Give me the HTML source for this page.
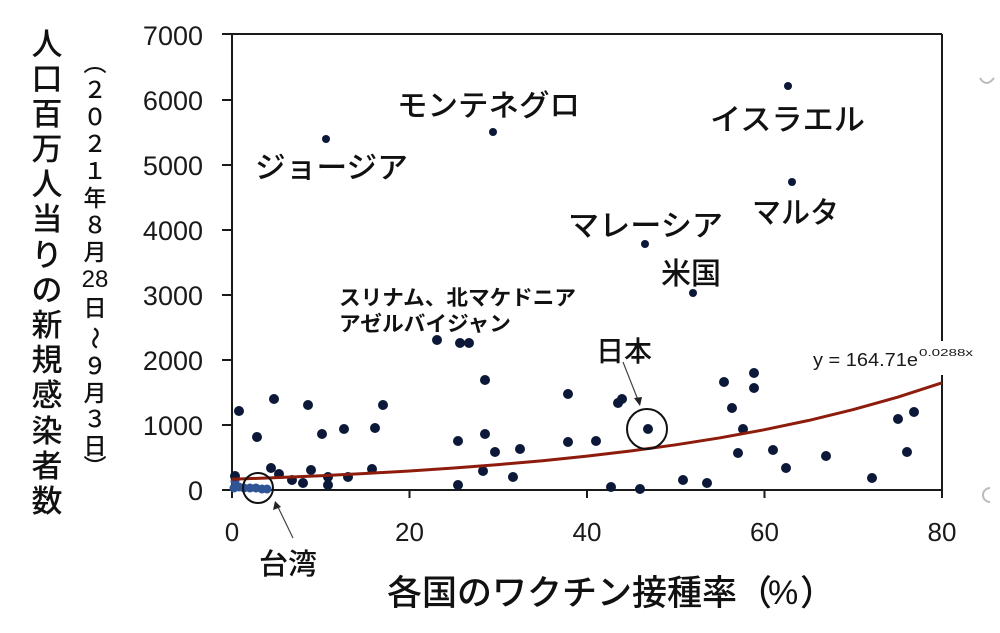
<!DOCTYPE html>
<html>
<head>
<meta charset="utf-8">
<style>
html,body{margin:0;padding:0;background:#fff;}
svg{display:block;}
.jp{font-family:"Liberation Sans","Noto Sans CJK JP",sans-serif;fill:#111;}
.num{font-family:"Liberation Sans",sans-serif;fill:#1a1a1a;}
</style>
</head>
<body>
<svg width="1000" height="633" viewBox="0 0 1000 633" xmlns="http://www.w3.org/2000/svg">
<rect width="1000" height="633" fill="#fff"/>

<g stroke="#1a1a1a" stroke-width="2" fill="none">
  <line x1="232" y1="34" x2="232" y2="491"/>
  <line x1="222" y1="34" x2="942" y2="34"/>
  <line x1="942" y1="34" x2="942" y2="341"/>
  <line x1="942" y1="375" x2="942" y2="498"/>
  <line x1="222" y1="490" x2="942" y2="490"/>
  <line x1="222" y1="100" x2="232" y2="100"/>
  <line x1="222" y1="165" x2="232" y2="165"/>
  <line x1="222" y1="230" x2="232" y2="230"/>
  <line x1="222" y1="295" x2="232" y2="295"/>
  <line x1="222" y1="360" x2="232" y2="360"/>
  <line x1="222" y1="425" x2="232" y2="425"/>
  <line x1="232" y1="490" x2="232" y2="498"/>
  <line x1="409.5" y1="490" x2="409.5" y2="498"/>
  <line x1="587" y1="490" x2="587" y2="498"/>
  <line x1="764.5" y1="490" x2="764.5" y2="498"/>
</g>

<g class="num" font-size="27" text-anchor="end">
  <text x="203" y="45">7000</text>
  <text x="203" y="110">6000</text>
  <text x="203" y="175">5000</text>
  <text x="203" y="240">4000</text>
  <text x="203" y="305">3000</text>
  <text x="203" y="370">2000</text>
  <text x="203" y="435">1000</text>
  <text x="203" y="500">0</text>
</g>
<g class="num" font-size="26" text-anchor="middle">
  <text x="232" y="541">0</text>
  <text x="409.5" y="541">20</text>
  <text x="587" y="541">40</text>
  <text x="764.5" y="541">60</text>
  <text x="942" y="541">80</text>
</g>

<g fill="#2f5597">
  <circle cx="234" cy="488" r="4.5"/>
  <circle cx="239" cy="487" r="4.5"/>
  <circle cx="244" cy="488" r="4.5"/>
  <circle cx="250" cy="488" r="4.5"/>
  <circle cx="256" cy="488" r="4.5"/>
  <circle cx="262" cy="489" r="4.5"/>
  <circle cx="267" cy="489" r="4.5"/>
  <circle cx="235" cy="481" r="4.5"/>
</g>

<g fill="#0b1838">
  <circle cx="437" cy="340" r="5"/>
  <circle cx="460" cy="343" r="5"/>
  <circle cx="469" cy="343" r="5"/>
  <circle cx="485" cy="380" r="5"/>
  <circle cx="568" cy="394" r="5"/>
  <circle cx="239" cy="411" r="5"/>
  <circle cx="274" cy="399" r="5"/>
  <circle cx="308" cy="405" r="5"/>
  <circle cx="383" cy="405" r="5"/>
  <circle cx="257" cy="437" r="5"/>
  <circle cx="322" cy="434" r="5"/>
  <circle cx="344" cy="429" r="5"/>
  <circle cx="375" cy="428" r="5"/>
  <circle cx="458" cy="441" r="5"/>
  <circle cx="485" cy="434" r="5"/>
  <circle cx="495" cy="452" r="5"/>
  <circle cx="520" cy="449" r="5"/>
  <circle cx="568" cy="442" r="5"/>
  <circle cx="271" cy="468" r="5"/>
  <circle cx="279" cy="474" r="5"/>
  <circle cx="235" cy="476" r="5"/>
  <circle cx="292" cy="480" r="5"/>
  <circle cx="303" cy="483" r="5"/>
  <circle cx="311" cy="470" r="5"/>
  <circle cx="328" cy="477" r="5"/>
  <circle cx="328" cy="485" r="5"/>
  <circle cx="348" cy="477" r="5"/>
  <circle cx="372" cy="469" r="5"/>
  <circle cx="483" cy="471" r="5"/>
  <circle cx="513" cy="477" r="5"/>
  <circle cx="458" cy="485" r="5"/>
  <circle cx="596" cy="441" r="5"/>
  <circle cx="618" cy="403" r="5"/>
  <circle cx="622" cy="399" r="5"/>
  <circle cx="648" cy="429" r="5"/>
  <circle cx="611" cy="487" r="5"/>
  <circle cx="640" cy="489" r="5"/>
  <circle cx="683" cy="480" r="5"/>
  <circle cx="707" cy="483" r="5"/>
  <circle cx="724" cy="382" r="5"/>
  <circle cx="732" cy="408" r="5"/>
  <circle cx="754" cy="373" r="5"/>
  <circle cx="754" cy="388" r="5"/>
  <circle cx="743" cy="429" r="5"/>
  <circle cx="738" cy="453" r="5"/>
  <circle cx="773" cy="450" r="5"/>
  <circle cx="786" cy="468" r="5"/>
  <circle cx="826" cy="456" r="5"/>
  <circle cx="872" cy="478" r="5"/>
  <circle cx="898" cy="419" r="5"/>
  <circle cx="914" cy="412" r="5"/>
  <circle cx="907" cy="452" r="5"/>
  <circle cx="326" cy="139" r="4"/>
  <circle cx="493" cy="132" r="4"/>
  <circle cx="788" cy="86" r="4"/>
  <circle cx="792" cy="182" r="4"/>
  <circle cx="645" cy="244" r="4"/>
  <circle cx="693" cy="293" r="4"/>
</g>

<polyline fill="none" stroke="#8e1c0c" stroke-width="3" stroke-linejoin="round"
 points="232,479.3 276.4,477.6 320.75,475.7 365.1,473.5 409.5,471.0 453.9,468.0 498.25,464.6 542.6,460.7 587,456.1 631.4,450.9 675.75,444.8 720.1,437.8 764.5,429.7 808.9,420.4 853.25,409.6 897.6,397.2 942,382.8"/>

<text class="num" x="813" y="366" font-size="18" fill="#222" textLength="105" lengthAdjust="spacingAndGlyphs">y = 164.71e</text>
<text class="num" x="919" y="356" font-size="10" fill="#555" textLength="54" lengthAdjust="spacingAndGlyphs">0.0288x</text>

<g stroke="#111" fill="none">
  <circle cx="647" cy="429" r="20" stroke-width="2"/>
  <circle cx="258" cy="488" r="15" stroke-width="2"/>
  <line x1="623" y1="362" x2="638" y2="400" stroke-width="1.2" stroke="#444"/>
  <line x1="293" y1="538" x2="277" y2="505" stroke-width="1.2" stroke="#444"/>
</g>
<polygon points="640,406 634,398 642,397" fill="#222"/>
<polygon points="275,501 273,510 281,507" fill="#222"/>

<g class="jp" font-weight="500">
  <text x="397" y="116" font-size="30" textLength="183" lengthAdjust="spacingAndGlyphs">モンテネグロ</text>
  <text x="255" y="178" font-size="30" textLength="153" lengthAdjust="spacingAndGlyphs">ジョージア</text>
  <text x="710" y="130" font-size="30" textLength="155" lengthAdjust="spacingAndGlyphs">イスラエル</text>
  <text x="752" y="223" font-size="30" textLength="87" lengthAdjust="spacingAndGlyphs">マルタ</text>
  <text x="568" y="236" font-size="30" textLength="155" lengthAdjust="spacingAndGlyphs">マレーシア</text>
  <text x="661" y="284" font-size="30">米国</text>
  <text x="596" y="361" font-size="28">日本</text>
  <text x="259" y="574" font-size="29">台湾</text>
  <text x="339" y="305" font-size="21" font-weight="bold" textLength="237" lengthAdjust="spacingAndGlyphs">スリナム、北マケドニア</text>
  <text x="339" y="331" font-size="21" font-weight="bold" textLength="172" lengthAdjust="spacingAndGlyphs">アゼルバイジャン</text>
</g>

<g class="jp" font-weight="500">
  <text x="387" y="605" font-size="35" textLength="385" lengthAdjust="spacingAndGlyphs">各国のワクチン接種率（</text>
  <text x="768" y="604" font-size="34" style="font-family:'Liberation Sans',sans-serif">%</text>
  <text x="800" y="605" font-size="35">）</text>
</g>

<g class="jp" font-size="31" text-anchor="middle" font-weight="500">
  <text x="47" y="55">人</text>
  <text x="47" y="90">口</text>
  <text x="47" y="125">百</text>
  <text x="47" y="160">万</text>
  <text x="47" y="195">人</text>
  <text x="47" y="230">当</text>
  <text x="47" y="266">り</text>
  <text x="47" y="301">の</text>
  <text x="47" y="336">新</text>
  <text x="47" y="371">規</text>
  <text x="47" y="406">感</text>
  <text x="47" y="442">染</text>
  <text x="47" y="477">者</text>
  <text x="47" y="512">数</text>
</g>

<g class="jp" font-size="23" text-anchor="middle" font-weight="500">
  <text x="95" y="71">︵</text>
  <text x="95" y="98">２</text>
  <text x="95" y="125">０</text>
  <text x="95" y="152">２</text>
  <text x="95" y="179">１</text>
  <text x="95" y="206">年</text>
  <text x="95" y="233">８</text>
  <text x="95" y="260">月</text>
  <text x="95" y="287" style="font-family:'Liberation Sans',sans-serif" font-size="24">28</text>
  <text x="95" y="316">日</text>
  <text x="0" y="0" transform="translate(95,338) rotate(90)" dominant-baseline="central">～</text>
  <text x="95" y="374">９</text>
  <text x="95" y="401">月</text>
  <text x="95" y="427">３</text>
  <text x="95" y="454">日</text>
  <text x="95" y="475">︶</text>
</g>

<g stroke="#bbb" stroke-width="2" fill="none">
  <path d="M980,78 q6,10 14,0"/>
  <path d="M990,488 a7,7 0 1,0 0,14"/>
</g>
</svg>
</body>
</html>
